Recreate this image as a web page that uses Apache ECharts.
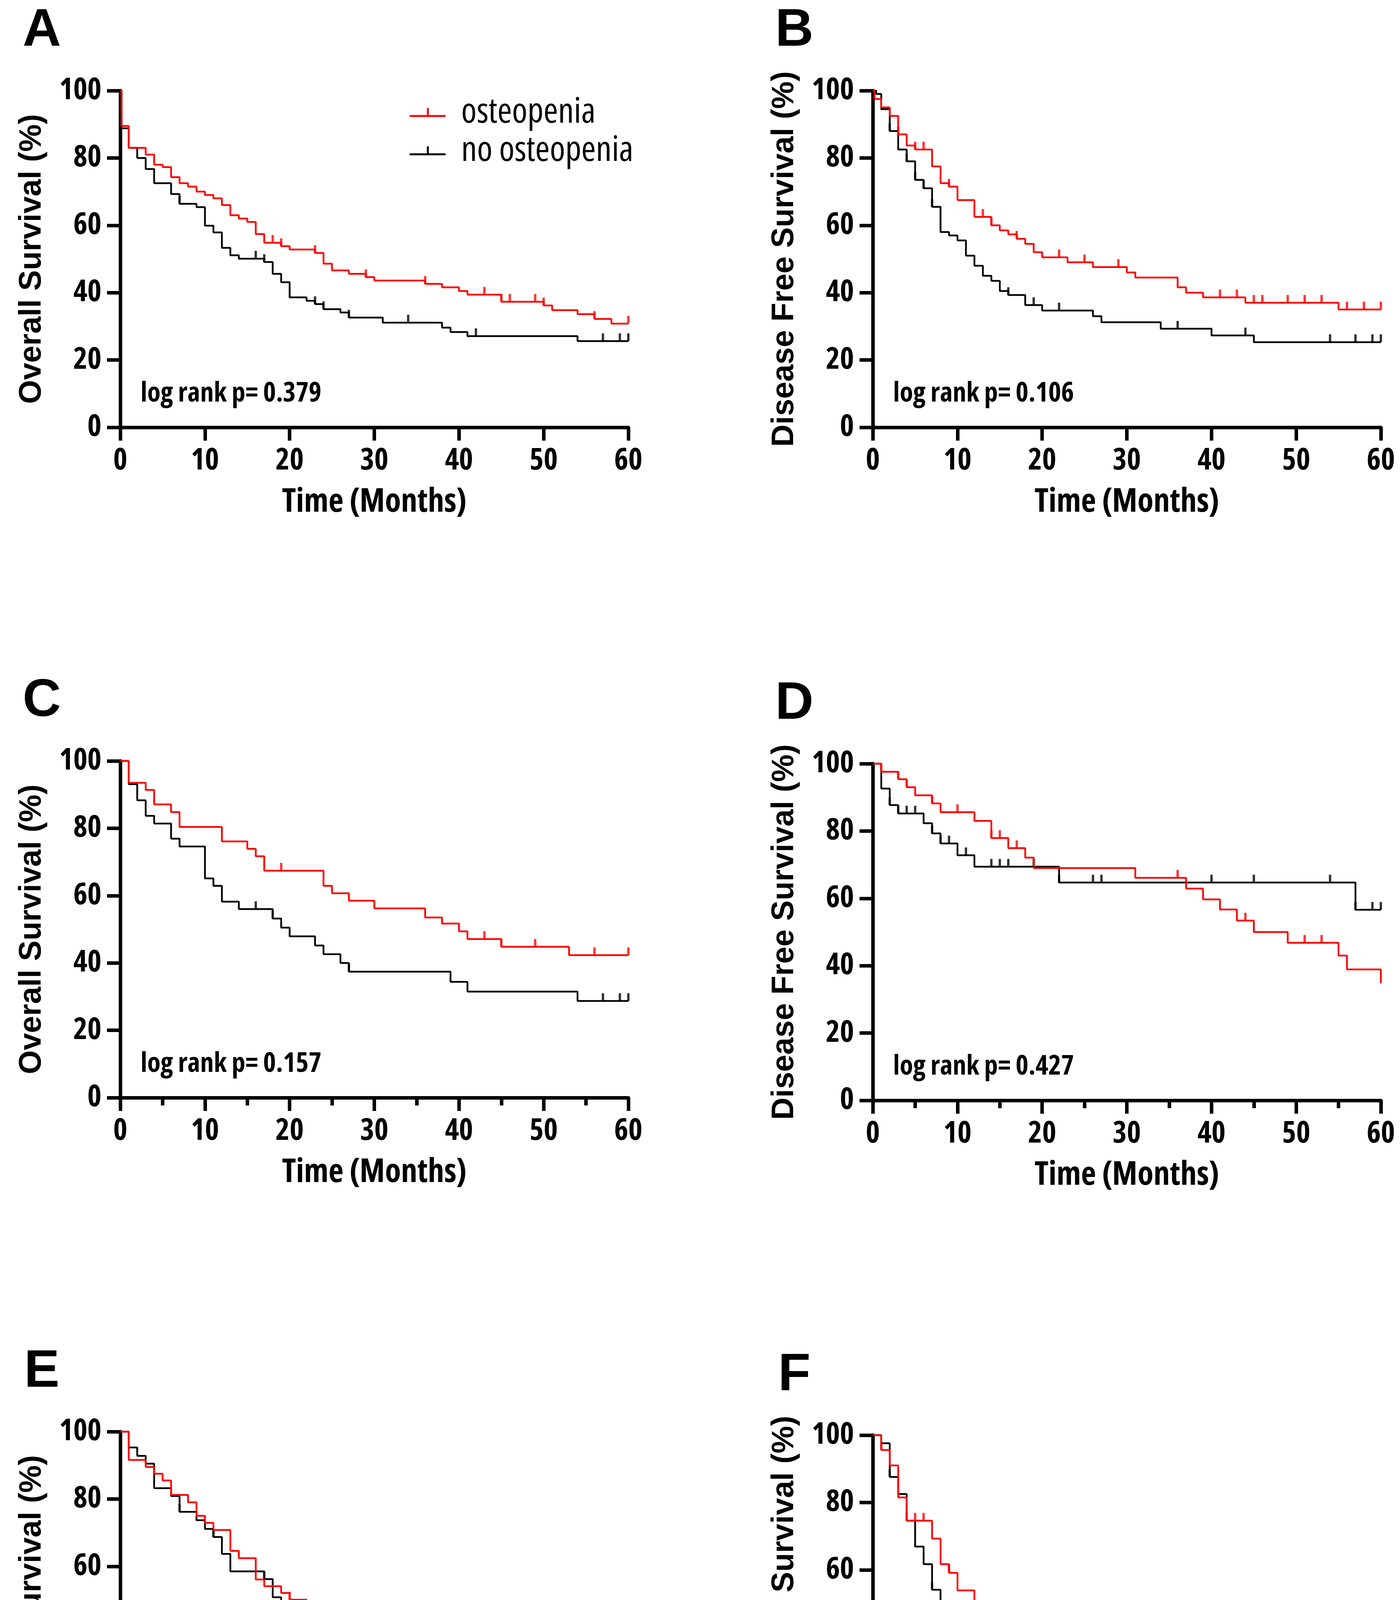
<!DOCTYPE html>
<html>
<head>
<meta charset="utf-8">
<title>Kaplan-Meier osteopenia</title>
<script src="https://cdn.jsdelivr.net/npm/echarts@6/dist/echarts.min.js"></script>
<style>
  html, body { margin: 0; padding: 0; background: #fff; }
  #chart { width: 3585px; height: 4793px; }
</style>
</head>
<body>
<div id="chart"></div>
<script>
// tick labels
var xTicks = [0, 10, 20, 30, 40, 50, 60];
var yTicks = [0, 20, 40, 60, 80, 100];
var groupNames = ['osteopenia', 'no osteopenia'];

// A - overall survival
var aOsteoTime = [0, 0.15, 1, 3, 4, 5, 6, 7, 8, 9, 10, 11, 12, 13, 14, 15, 16, 17, 19, 20, 23, 24, 25, 27, 29, 30, 36, 38, 40, 41, 45, 50, 51, 54, 56, 58, 60];
var aOsteoSurv = [100, 89.5, 83, 81, 78, 77.3, 74.3, 72.5, 71.5, 70, 69, 68, 66, 63, 62, 61, 57.4, 54.8, 53.8, 52.8, 51.8, 48.6, 46.6, 45.6, 44.6, 43.6, 42.6, 41.6, 40.5, 39.4, 37.3, 36.2, 34.8, 33.6, 32.2, 30.8, 30.8];
var aOsteoCens = [18, 19, 23, 29, 36, 43, 45, 46, 49, 50, 56, 60];
var aNoTime = [0, 0.15, 1, 2, 3, 4, 6, 7, 9, 10, 11, 12, 13, 14, 17, 18, 19, 20, 22, 23, 24, 26, 27, 31, 38, 39, 41, 54, 60];
var aNoSurv = [100, 88.8, 83, 80, 76.7, 72.5, 69.3, 66.4, 65.4, 59.9, 57.9, 53.3, 51.1, 50.1, 49.1, 45.6, 43.1, 38.6, 37.6, 36.6, 35.1, 34.1, 32.6, 31.1, 29.6, 28.3, 27.1, 25.6, 25.6];
var aNoCens = [7, 16, 17, 23, 24, 27, 34, 42, 57, 59, 60];

// B - disease free survival
var bOsteoTime = [0, 0.2, 1, 2, 3, 4, 5, 7, 8, 9, 10, 12, 14, 15, 16, 17, 18, 19, 20, 23, 26, 30, 31, 36, 37, 39, 44, 55, 60];
var bOsteoSurv = [100, 97.5, 95, 92.5, 87, 83.7, 82.5, 77.5, 72.5, 71.5, 67.5, 62.5, 60, 58.5, 57.3, 56, 54.5, 52, 50.5, 49, 47.6, 46, 44.5, 41.6, 40, 38.6, 37, 35, 35];
var bOsteoCens = [3, 5, 6, 9, 13, 14, 17, 22, 25, 29, 41, 43, 45, 46, 49, 51, 53, 56, 58, 60];
var bNoTime = [0, 0.4, 1, 2, 3, 4, 5, 6, 7, 8, 9, 10, 11, 12, 13, 14, 15, 16, 18, 20, 26, 27, 34, 40, 45, 60];
var bNoSurv = [100, 99, 94.5, 88, 82.5, 79, 73.5, 71, 65.5, 58, 57, 55.5, 51, 48, 45, 43.5, 40.5, 39.3, 36.3, 34.7, 33, 31.2, 29.3, 27.3, 25.3, 25.3];
var bNoCens = [2, 4, 5, 6, 7, 16, 19, 22, 36, 44, 54, 57, 59, 60];

// C - overall survival
var cOsteoTime = [0, 1, 3, 4, 6, 7, 12, 15, 16, 17, 24, 25, 27, 30, 36, 38, 40, 41, 45, 53, 60];
var cOsteoSurv = [100, 93.5, 91.4, 87.1, 84.8, 80.4, 76.1, 73.9, 71.7, 67.4, 62.9, 60.7, 58.5, 56.2, 53.5, 51.7, 49.4, 47.1, 44.8, 42.3, 42.3];
var cOsteoCens = [19, 43, 45, 49, 56, 60];
var cNoTime = [0, 1, 2, 3, 4, 6, 7, 10, 11, 12, 14, 18, 19, 20, 23, 24, 26, 27, 39, 41, 54, 60];
var cNoSurv = [100, 93.1, 88.3, 83.7, 81.4, 76.9, 74.6, 65.1, 62.9, 58.2, 56, 53.2, 50.5, 47.9, 45.2, 42.6, 40, 37.4, 34.4, 31.5, 28.7, 28.7];
var cNoCens = [16, 18, 27, 57, 59, 60];

// D - disease free survival
var dOsteoTime = [0, 1, 3, 4, 5, 7, 8, 12, 14, 16, 18, 19, 31, 37, 39, 41, 43, 45, 49, 55, 56, 60];
var dOsteoSurv = [100, 97.6, 95.4, 93, 90.6, 88.2, 85.6, 83, 77.9, 74.9, 72.1, 69, 66.1, 62.9, 59.7, 56.7, 53.4, 50, 46.8, 43, 38.9, 34.8];
var dOsteoCens = [1, 3, 4, 7, 10, 14, 15, 17, 36, 44, 51, 53];
var dNoTime = [0, 1, 2, 3, 6, 7, 8, 10, 12, 22, 57, 60];
var dNoSurv = [100, 92.6, 87.7, 85.2, 82.3, 79.3, 76.3, 72.8, 69.4, 64.7, 56.6, 56.6];
var dNoCens = [2, 3, 4, 5, 7, 8, 9, 11, 14, 15, 16, 19, 22, 26, 27, 40, 45, 54, 57, 59, 60];

// E - overall survival
var eOsteoTime = [0, 1, 3, 4, 5, 6, 8, 9, 10, 11, 13, 14, 16, 17, 19, 20, 22, 24, 25, 29, 45, 50, 51, 56, 58, 60];
var eOsteoSurv = [100, 91.6, 89.5, 87.5, 85.5, 81.2, 79, 75, 72.9, 70.8, 64.6, 62.4, 56.1, 54.1, 52.1, 50.1, 47.7, 45.6, 43.2, 41, 38.6, 35.6, 32.6, 29.7, 26.8, 23.6];
var eOsteoCens = [20, 23, 29, 36, 46, 50];
var eNoTime = [0, 1, 2, 3, 4, 6, 7, 9, 10, 11, 12, 13, 17, 18, 19, 20, 22, 31, 38, 60];
var eNoSurv = [100, 95.3, 92.8, 90.5, 83.2, 80.9, 76.2, 73.7, 71.1, 68.7, 63.7, 58.5, 56.2, 50.8, 48, 40.1, 37.3, 34.5, 31, 31];
var eNoCens = [7, 11, 17, 23, 24, 34, 42];

// F - disease free survival
var fOsteoTime = [0, 1, 2, 3, 4, 7, 8, 9, 10, 12, 19, 20, 23, 26, 30, 36, 60];
var fOsteoSurv = [100, 95.6, 91, 81.5, 74.6, 69.3, 61.7, 59.1, 53.9, 45.8, 42.5, 39.6, 36.4, 33.3, 29.5, 25.8, 25.8];
var fOsteoCens = [1, 4, 5, 6, 9, 13, 25, 29, 46, 58, 60];
var fNoTime = [0, 1, 2, 3, 4, 5, 6, 7, 8, 11, 12, 13, 15, 16, 18, 20, 27, 34, 60];
var fNoSurv = [100, 97.6, 87.6, 82.5, 74.6, 66.9, 61.7, 54.1, 45.6, 42.5, 39.7, 34, 31.2, 28.4, 22, 18.9, 15.7, 12.6, 12.6];
var fNoCens = [2, 7, 16, 36, 44];

var RED = '#ff0000';
var BLACK = '#000000';
var COND = '"Open Sans", "Liberation Sans", sans-serif';   // used with font-stretch condensed
var WIDE = '"Liberation Sans", Arial, sans-serif';

var panels = [
  { letter: 'A', left: 308, top: 232, yName: 'Overall Survival (%)', p: 'log rank p= 0.379', minor: false,
    osteo: [aOsteoTime, aOsteoSurv, aOsteoCens], no: [aNoTime, aNoSurv, aNoCens] },
  { letter: 'B', left: 2235, top: 232, yName: 'Disease Free Survival (%)', p: 'log rank p= 0.106', minor: false,
    osteo: [bOsteoTime, bOsteoSurv, bOsteoCens], no: [bNoTime, bNoSurv, bNoCens] },
  { letter: 'C', left: 308, top: 1948, yName: 'Overall Survival (%)', p: 'log rank p= 0.157', minor: true,
    osteo: [cOsteoTime, cOsteoSurv, cOsteoCens], no: [cNoTime, cNoSurv, cNoCens] },
  { letter: 'D', left: 2235, top: 1955, yName: 'Disease Free Survival (%)', p: 'log rank p= 0.427', minor: true,
    osteo: [dOsteoTime, dOsteoSurv, dOsteoCens], no: [dNoTime, dNoSurv, dNoCens] },
  { letter: 'E', left: 308, top: 3665, yName: 'Overall Survival (%)', p: 'log rank p= 0.858', minor: false,
    osteo: [eOsteoTime, eOsteoSurv, eOsteoCens], no: [eNoTime, eNoSurv, eNoCens] },
  { letter: 'F', left: 2235, top: 3674, yName: 'Disease Free Survival (%)', p: 'log rank p= 0.118', minor: false,
    osteo: [fOsteoTime, fOsteoSurv, fOsteoCens], no: [fNoTime, fNoSurv, fNoCens] }
];
var plotW = 1301, plotH = 862;

// survival value at time t (step function)
function survAt(times, surv, t) {
  var v = surv[0];
  for (var i = 0; i < times.length; i++) {
    if (times[i] <= t) v = surv[i];
  }
  return v;
}

function curve(name, color, d, gi) {
  return {
    name: name, type: 'line', step: 'end', xAxisIndex: gi, yAxisIndex: gi,
    data: d[0].map(function(t, i) { return [t, d[1][i]]; }),
    symbol: 'none', clip: false,
    lineStyle: { color: color, width: 4.5 },
    itemStyle: { color: color }
  };
}

// censor marks: short vertical ticks sitting on the curve
function censored(name, color, d, gi) {
  return {
    name: name, type: 'scatter', xAxisIndex: gi, yAxisIndex: gi,
    data: d[2].map(function(t) { return [t, survAt(d[0], d[1], t)]; }),
    symbol: 'rect', symbolSize: [6, 20], symbolOffset: [0, -10],
    itemStyle: { color: color }, clip: false
  };
}

var grids = [], xAxes = [], yAxes = [], series = [], graphics = [];
panels.forEach(function(pn, gi) {
  grids.push({ left: pn.left, top: pn.top, width: plotW, height: plotH, containLabel: false });
  xAxes.push({
    type: 'value', gridIndex: gi, min: xTicks[0], max: xTicks[xTicks.length - 1],
    interval: xTicks[1] - xTicks[0],
    name: 'Time (Months)', nameLocation: 'middle', nameGap: 150,
    nameTextStyle: { fontFamily: COND, fontWeight: 'bold condensed', fontSize: 84, color: '#000' },
    axisLine: { show: true, onZero: false, lineStyle: { color: '#000', width: 9 } },
    axisTick: { show: true, length: 34, lineStyle: { color: '#000', width: 9 } },
    minorTick: { show: pn.minor, splitNumber: 2, length: 20, lineStyle: { color: '#000', width: 9 } },
    axisLabel: { fontFamily: COND, fontWeight: 'bold condensed', fontSize: 77, color: '#000', margin: 48 },
    splitLine: { show: false }
  });
  yAxes.push({
    type: 'value', gridIndex: gi, min: yTicks[0], max: yTicks[yTicks.length - 1],
    interval: yTicks[1] - yTicks[0],
    name: pn.yName, nameLocation: 'middle', nameGap: 186, nameRotate: 90,
    nameTextStyle: { fontFamily: WIDE, fontWeight: 'bold', fontSize: 79, color: '#000' },
    axisLine: { show: true, onZero: false, lineStyle: { color: '#000', width: 9 } },
    axisTick: { show: true, length: 34, lineStyle: { color: '#000', width: 9 } },
    axisLabel: { fontFamily: COND, fontWeight: 'bold condensed', fontSize: 77, color: '#000', margin: 48 },
    splitLine: { show: false }
  });
  series.push(curve(groupNames[1], BLACK, pn.no, gi));
  series.push(censored(groupNames[1], BLACK, pn.no, gi));
  series.push(curve(groupNames[0], RED, pn.osteo, gi));
  series.push(censored(groupNames[0], RED, pn.osteo, gi));
  graphics.push({
    type: 'text', x: pn.left - 201, y: pn.top - 153,
    style: { text: pn.letter, fontFamily: WIDE, fontWeight: 'bold', fontSize: 136, fill: '#000',
             align: 'center', verticalAlign: 'middle' }
  });
  graphics.push({
    type: 'text', x: pn.left + 52, y: pn.top + 776,
    style: { text: pn.p, fontFamily: COND, fontWeight: 'bold condensed', fontSize: 70, fill: '#000',
             align: 'left', verticalAlign: 'middle' }
  });
});

// legend icon: line with censor tick
var legendIcon = 'path://M0,18h92v5h-92z M44,0h5v18h-5z';

var myChart = echarts.init(document.getElementById('chart'));
var option = {
  backgroundColor: '#fff',
  animation: false,
  grid: grids,
  xAxis: xAxes,
  yAxis: yAxes,
  legend: {
    orient: 'vertical', left: 1044, top: 238,
    itemWidth: 92, itemHeight: 23, itemGap: 8,
    selectedMode: false,
    data: [
      { name: groupNames[0], icon: legendIcon, itemStyle: { color: RED } },
      { name: groupNames[1], icon: legendIcon, itemStyle: { color: BLACK } }
    ],
    textStyle: { fontFamily: COND, fontWeight: 'normal condensed', fontSize: 90, color: '#000', padding: [0, 0, 0, 35] }
  },
  graphic: graphics,
  series: series
};
myChart.setOption(option);
</script>
</body>
</html>
